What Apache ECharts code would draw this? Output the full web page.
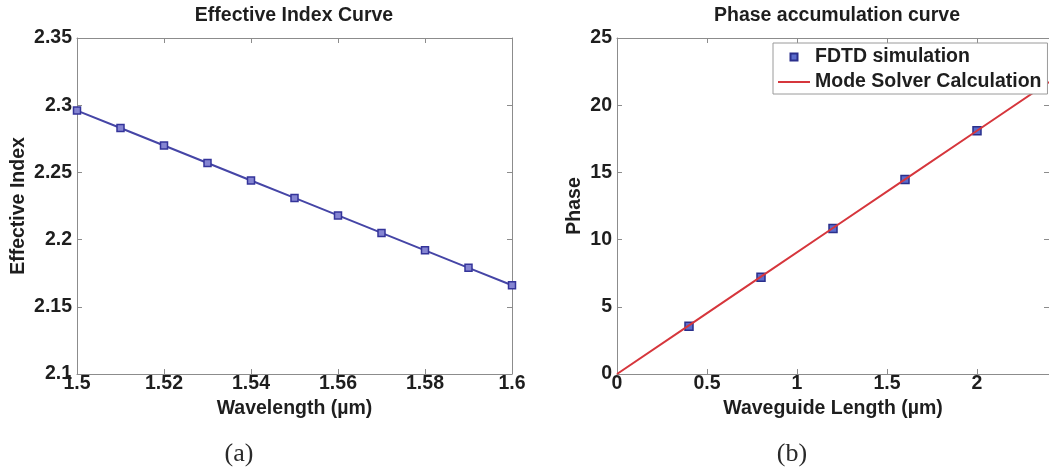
<!DOCTYPE html>
<html>
<head>
<meta charset="utf-8">
<script src="https://cdn.jsdelivr.net/npm/echarts@6/dist/echarts.min.js"></script>
<style>
  html, body { margin: 0; padding: 0; background: #ffffff; }
  #chart { width: 1049px; height: 470px; }
</style>
</head>
<body>
<div id="chart"></div>
<script>
// Effective index of the waveguide mode versus wavelength
const wavelength = [1.50, 1.51, 1.52, 1.53, 1.54, 1.55, 1.56, 1.57, 1.58, 1.59, 1.60];
const effectiveIndex = [2.296, 2.283, 2.270, 2.257, 2.244, 2.231, 2.218, 2.205, 2.192, 2.179, 2.166];

// Phase accumulated along the waveguide
const fdtdLength = [0.4, 0.8, 1.2, 1.6, 2.0];
const fdtdPhase = [3.56, 7.20, 10.82, 14.47, 18.10];
const solverLength = [0, 0.4, 0.8, 1.2, 1.6, 2.0, 2.4];
const solverPhase = [0, 3.62, 7.24, 10.86, 14.48, 18.10, 21.72];

// Axis tick values
const wavelengthTicks = [1.5, 1.52, 1.54, 1.56, 1.58, 1.6];
const indexTicks = [2.1, 2.15, 2.2, 2.25, 2.3, 2.35];
const lengthTicks = [0, 0.5, 1, 1.5, 2];
const lengthMax = 2.4;
const phaseTicks = [0, 5, 10, 15, 20, 25];

const FONT = '"Liberation Sans", Arial, Helvetica, sans-serif';
const TEXT = '#1e1e1e';
const AXIS = '#8c8c8c';
const FS = 19.5;

const fmt = v => String(+(+v).toFixed(3));

function axis(kind, pos, gridIndex, ticks, opts) {
  opts = opts || {};
  const isMain = pos === 'bottom' || pos === 'left';
  const a = {
    type: 'value',
    gridIndex: gridIndex,
    position: pos,
    min: ticks[0],
    max: opts.max !== undefined ? opts.max : ticks[ticks.length - 1],
    interval: ticks[1] - ticks[0],
    splitLine: { show: false },
    axisLine: { show: true, onZero: false, lineStyle: { color: AXIS, width: 1 } },
    axisTick: { show: true, inside: true, length: 5, lineStyle: { color: AXIS, width: 1 } },
    axisLabel: {
      show: isMain,
      formatter: fmt,
      color: TEXT,
      fontFamily: FONT,
      fontWeight: 'bold',
      fontSize: FS,
      margin: kind === 'x' ? 0 : 5,
      showMaxLabel: opts.max === undefined
    }
  };
  if (isMain && opts.name) {
    a.name = opts.name;
    a.nameLocation = 'middle';
    a.nameGap = opts.nameGap;
    a.nameTextStyle = { color: TEXT, fontFamily: FONT, fontWeight: 'bold', fontSize: FS };
  }
  return a;
}

const chart = echarts.init(document.getElementById('chart'), null, { renderer: 'canvas' });

const titleStyle = { color: TEXT, fontFamily: FONT, fontWeight: 'bold', fontSize: FS };
const capStyle = { color: '#2a2a2a', fontFamily: '"Liberation Serif", "DejaVu Serif", serif', fontWeight: 'normal', fontSize: 26 };

chart.setOption({
  backgroundColor: '#ffffff',
  animation: false,
  title: [
    { text: 'Effective Index Curve', left: 294, top: 6, padding: 0, textAlign: 'center', textStyle: titleStyle },
    { text: 'Phase accumulation curve', left: 837, top: 6, padding: 0, textAlign: 'center', textStyle: titleStyle },
    { text: '(a)', left: 239, top: 441, padding: 0, textAlign: 'center', textStyle: capStyle },
    { text: '(b)', left: 792, top: 441, padding: 0, textAlign: 'center', textStyle: capStyle }
  ],
  grid: [
    { left: 77, top: 38, width: 435, height: 336, containLabel: false },
    { left: 617, top: 38, width: 439, height: 336, containLabel: false }
  ],
  xAxis: [
    axis('x', 'bottom', 0, wavelengthTicks, { name: 'Wavelength (\u00b5m)', nameGap: 25 }),
    axis('x', 'top', 0, wavelengthTicks),
    axis('x', 'bottom', 1, lengthTicks, { max: lengthMax, name: 'Waveguide Length (\u00b5m)', nameGap: 25 }),
    axis('x', 'top', 1, lengthTicks, { max: lengthMax })
  ],
  yAxis: [
    axis('y', 'left', 0, indexTicks, { name: 'Effective Index', nameGap: 48 }),
    axis('y', 'right', 0, indexTicks),
    axis('y', 'left', 1, phaseTicks, { name: 'Phase', nameGap: 32 }),
    axis('y', 'right', 1, phaseTicks)
  ],
  legend: {
    data: [
      { name: 'FDTD simulation', icon: 'path://M0,0L10,0L10,10L0,10Z' },
      { name: 'Mode Solver Calculation', icon: 'path://M0,0L32,0L32,2L0,2Z' }
    ],
    orient: 'vertical',
    left: 773,
    top: 43,
    itemWidth: 32,
    itemHeight: 7,
    itemGap: 5,
    padding: [4, 6, 2, 5],
    borderColor: '#9a9a9a',
    borderWidth: 1,
    backgroundColor: '#ffffff',
    selectedMode: false,
    textStyle: { color: TEXT, fontFamily: FONT, fontWeight: 'bold', fontSize: FS, lineHeight: 20 }
  },
  series: [
    {
      name: 'Effective index',
      type: 'line',
      xAxisIndex: 0,
      yAxisIndex: 0,
      data: wavelength.map((w, i) => [w, effectiveIndex[i]]),
      symbol: 'rect',
      symbolSize: 7,
      clip: false,
      lineStyle: { color: '#4545a6', width: 2 },
      itemStyle: { color: '#8585d2', borderColor: '#34349a', borderWidth: 1.5 }
    },
    {
      name: 'FDTD simulation',
      type: 'scatter',
      xAxisIndex: 2,
      yAxisIndex: 2,
      data: fdtdLength.map((l, i) => [l, fdtdPhase[i]]),
      symbol: 'rect',
      symbolSize: 8,
      itemStyle: { color: '#5b6ccc', borderColor: '#2a2f8c', borderWidth: 1.5, opacity: 1 }
    },
    {
      name: 'Mode Solver Calculation',
      type: 'line',
      xAxisIndex: 2,
      yAxisIndex: 2,
      data: solverLength.map((l, i) => [l, solverPhase[i]]),
      showSymbol: false,
      symbol: 'none',
      lineStyle: { color: '#d6363c', width: 2 },
      itemStyle: { color: '#d6363c' }
    }
  ]
});
</script>
</body>
</html>
